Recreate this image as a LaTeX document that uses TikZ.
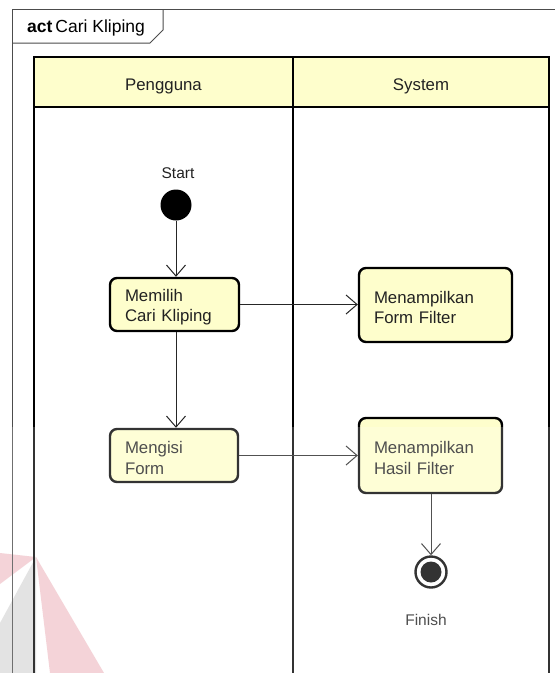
\documentclass[tikz,border=0pt]{standalone}
\usepackage{fontspec}
\setmainfont{Liberation Sans}
\usetikzlibrary{arrows.meta}
\definecolor{laneyellow}{HTML}{FEFECC}
\definecolor{inkgray}{HTML}{222222}
\definecolor{wmpink}{HTML}{F2C9CF}
\definecolor{wmgray}{HTML}{DCDCDC}
\tikzset{
  lbl/.style={font=\fontsize{16.8}{20.5}\selectfont, text=inkgray},
  action/.style={lbl, draw=black, line width=2.4pt, fill=laneyellow, rounded corners=7pt,
    align=left, inner xsep=15pt, inner ysep=0pt},
  lane/.style={draw=black, line width=2.8pt},
  flow/.style={draw=black!85, line width=1pt, -{Straight Barb[length=11pt,width=19pt,line width=1pt]}},
}
\newcommand{\upstrut}{\rule{0pt}{17pt}}
\begin{document}
\begin{tikzpicture}[x=1pt,y=-1pt]
\useasboundingbox (0,0) rectangle (555,673);
\fill[white] (0,0) rectangle (555,673);

% faint logo fragment in the lower left corner
\fill[wmpink] (36,557) -- (0,553) -- (0,584) -- cycle;
\fill[wmgray] (36,557) -- (0,623) -- (0,673) -- (36,673) -- cycle;
\fill[wmpink] (36,557) -- (104,673) -- (50,673) -- cycle;

% outer activity frame and its tab
\draw[black!70, line width=1pt] (555,9) -- (12.5,9) -- (12.5,673);
\node[anchor=west, font=\fontsize{17.5}{20}\selectfont, inner sep=0pt] (title) at (27,28)
  {\textbf{act}\,Cari Kliping};
\draw[black!70, line width=1pt] (12.5,43) -- (150,43) -- (163,30) -- (163,9);

% swimlane headers
\fill[laneyellow] (34,57) rectangle (549,107);
\node[lbl] (hU) at (163.5,86) {Pengguna};
\node[lbl] (hS) at (421,86) {System};
\draw[lane] (34,673) -- (34,57) -- (549,57) -- (549,673);
\draw[lane] (34,107) -- (549,107);
\draw[lane] (293,57) -- (293,673);

% start node
\node[lbl, font=\fontsize{15.5}{18}\selectfont] (startlbl) at (178,173) {Start};
\node[circle, fill=black, minimum size=31pt, inner sep=0pt] (start) at (176,205) {};

% actions
\node[action, minimum width=129pt, minimum height=53pt, text width=99pt] (pilih) at (174.5,304.5)
  {\upstrut Memilih\\Cari Kliping};
\node[action, minimum width=153pt, minimum height=74pt, text width=123pt] (form) at (435.5,305)
  {\upstrut Menampilkan\\Form Filter};
\node[action, minimum width=128pt, minimum height=53pt, text width=98pt] (isi) at (174,455.5)
  {\upstrut Mengisi\\Form};
\node[action, minimum width=143pt, minimum height=75pt, text width=113pt] (hasil) at (430.5,455.5)
  {\upstrut Menampilkan\\Hasil Filter};

% final node
\node[circle, draw=black, line width=2.4pt, fill=white, minimum size=31pt, inner sep=0pt] (finish) at (431,572) {};
\fill[black] (finish.center) circle (10.5pt);
\node[lbl, font=\fontsize{15.5}{18}\selectfont] (finishlbl) at (426,620) {Finish};

% control flows
\draw[flow] (start) -- (pilih.north -| start);
\draw[flow] (pilih.east) -- (pilih.east -| form.west);
\draw[flow] (pilih.south -| start) -- (isi.north -| start);
\draw[flow] (isi.east) -- (isi.east -| hasil.west);
\draw[flow] (hasil.south -| finish) -- (finish.north);

% lighter lower part of the page
\fill[white, opacity=0.2] (0,427) rectangle (555,673);
\end{tikzpicture}
\end{document}
